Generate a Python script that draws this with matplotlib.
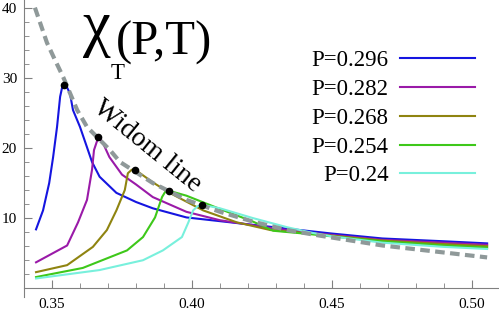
import numpy as np
import matplotlib
matplotlib.use("Agg")
import matplotlib.pyplot as plt
from matplotlib.ticker import FixedLocator

plt.rcParams['font.family'] = ['Liberation Serif', 'DejaVu Serif']

# susceptibility curves chi_T(P,T)
pressures = ['0.296', '0.282', '0.268', '0.254', '0.24']
colors = ['#1515e0', '#9a1aa8', '#8f8410', '#3ec81a', '#78f0dc']

T_296 = [0.3443, 0.3468, 0.349, 0.3504, 0.3518, 0.3529, 0.3536, 0.3543, 0.3554, 0.3564, 0.3575,
         0.36, 0.3625, 0.3643, 0.367, 0.373, 0.38, 0.386, 0.398, 0.416, 0.434, 0.45, 0.468, 0.49, 0.5054]
chi_296 = [8.4, 11.1, 15.0, 18.7, 23.0, 27.3, 28.6, 29.0, 28.6, 27.8, 25.4,
           23.0, 20.1, 18.0, 15.9, 13.6, 12.3, 11.4, 10.1, 9.3, 8.5, 7.8, 7.1, 6.7, 6.4]

T_282 = [0.3443, 0.3554, 0.3593, 0.3625, 0.3643, 0.365, 0.3666, 0.3682, 0.3705, 0.375, 0.38,
         0.386, 0.398, 0.41, 0.428, 0.44, 0.45, 0.468, 0.49, 0.5054]
chi_282 = [3.7, 6.1, 9.4, 12.6, 16.9, 19.7, 21.6, 20.7, 18.7, 16.2, 14.8,
           13.0, 10.9, 9.7, 8.6, 8.0, 7.6, 6.9, 6.5, 6.2]

T_268 = [0.3443, 0.3554, 0.3646, 0.3696, 0.373, 0.376, 0.3771, 0.3785, 0.3796, 0.3804, 0.386,
         0.392, 0.404, 0.416, 0.428, 0.44, 0.45, 0.468, 0.49, 0.5054]
chi_268 = [2.3, 3.3, 5.9, 8.3, 11.1, 14.0, 16.4, 16.9, 16.9, 16.7, 15.1,
           13.6, 11.1, 9.4, 8.3, 7.9, 7.5, 6.8, 6.3, 6.0]

T_254 = [0.3443, 0.361, 0.3768, 0.3825, 0.3868, 0.3893, 0.3905, 0.3918, 0.398, 0.41, 0.4218,
         0.429, 0.44, 0.45, 0.468, 0.49, 0.5054]
chi_254 = [1.6, 2.9, 5.4, 7.3, 10.1, 13.0, 13.8, 13.9, 13.2, 11.3, 9.5,
           8.2, 7.8, 7.4, 6.7, 6.1, 5.8]

T_240 = [0.3443, 0.367, 0.3825, 0.3896, 0.3964, 0.3986, 0.4004, 0.402, 0.4036, 0.41, 0.4218,
         0.434, 0.443, 0.45, 0.468, 0.49, 0.5054]
chi_240 = [1.4, 2.6, 4.0, 5.4, 7.3, 9.3, 11.1, 11.7, 11.9, 11.4, 10.0,
           8.7, 7.9, 7.4, 6.5, 5.9, 5.6]

# maxima (black dots) and the Widom line through them
T_peak = [0.3543, 0.3666, 0.3796, 0.3918, 0.4036]
chi_peak = [29.0, 21.6, 16.9, 13.9, 11.9]

T_widom = [0.3439, 0.3482, 0.351, 0.354, 0.359, 0.3625, 0.3707, 0.3743, 0.386, 0.398,
           0.41, 0.4218, 0.434, 0.4457, 0.468, 0.5054]
chi_widom = [40.0, 35.0, 32.6, 30.1, 25.4, 23.0, 19.7, 18.0, 15.0, 12.6,
             10.9, 9.5, 8.3, 7.5, 6.1, 4.4]

x_major = [0.35, 0.40, 0.45, 0.50]
y_major = [10, 20, 30, 40]

curves = [(T_296, chi_296), (T_282, chi_282), (T_268, chi_268), (T_254, chi_254), (T_240, chi_240)]

W, H = 499, 312
fig = plt.figure(figsize=(W / 100, H / 100), dpi=100)
ax = fig.add_axes([0, 0, 1, 1])

for (t, c), p, col in zip(curves, pressures, colors):
    ax.plot(t, c, color=col, lw=1.5, label=f'P={p}', solid_joinstyle='round')

ax.plot(T_widom, chi_widom, color='#8f9999', lw=3.0, ls=(0, (2.3, 1.3)), zorder=3)
ax.plot(T_peak, chi_peak, 'o', color='black', ms=4.5, zorder=4)

ax.set_xlim(0.33143, 0.50964)
ax.set_ylim(-3.38, 41.09)

for s in ['top', 'right']:
    ax.spines[s].set_visible(False)
ax.spines['left'].set_position(('data', 0.34))
ax.spines['bottom'].set_position(('data', 0.0))
ax.spines['left'].set_bounds(-1.3, 41.09)
ax.spines['bottom'].set_bounds(0.34, 0.50964)
for s in ['left', 'bottom']:
    ax.spines[s].set_color('#808080')
    ax.spines[s].set_linewidth(0.8)

ax.xaxis.set_major_locator(FixedLocator(x_major))
ax.xaxis.set_minor_locator(FixedLocator(np.arange(0.35, 0.51, 0.01)))
ax.yaxis.set_major_locator(FixedLocator(y_major))
ax.yaxis.set_minor_locator(FixedLocator(np.arange(2, 41, 2)))
ax.set_xticklabels(['0.35', '0.40', '0.45', '0.50'])
ax.set_yticklabels(['10', '20', '30', '40'])
ax.tick_params(which='both', direction='in', color='#808080', labelsize=11)
ax.tick_params(which='major', length=6, width=0.8)
ax.tick_params(which='minor', length=3.5, width=0.6)
ax.tick_params(axis='x', pad=7)
ax.tick_params(axis='y', pad=5)

ax.legend(loc='upper right', bbox_to_anchor=(475 / W, 1 - 50 / H), frameon=False,
          markerfirst=False, fontsize=16.5, handlelength=3.27, handletextpad=0.5,
          labelspacing=0.34, borderaxespad=0, borderpad=0)

fig.text(83 / W, 1 - 44 / H, 'χ', fontsize=45, ha='left', va='baseline')
fig.text(111 / W, 1 - 79 / H, 'T', fontsize=16.5, ha='left', va='baseline')
fig.text(116 / W, 1 - 55 / H, '(P,T)', fontsize=35, ha='left', va='baseline')

ax.text(147, H - 146, 'Widom line', fontsize=20, rotation=-39, ha='center', va='center',
        rotation_mode='anchor', transform=None)

fig.savefig('out.png', dpi=100)
